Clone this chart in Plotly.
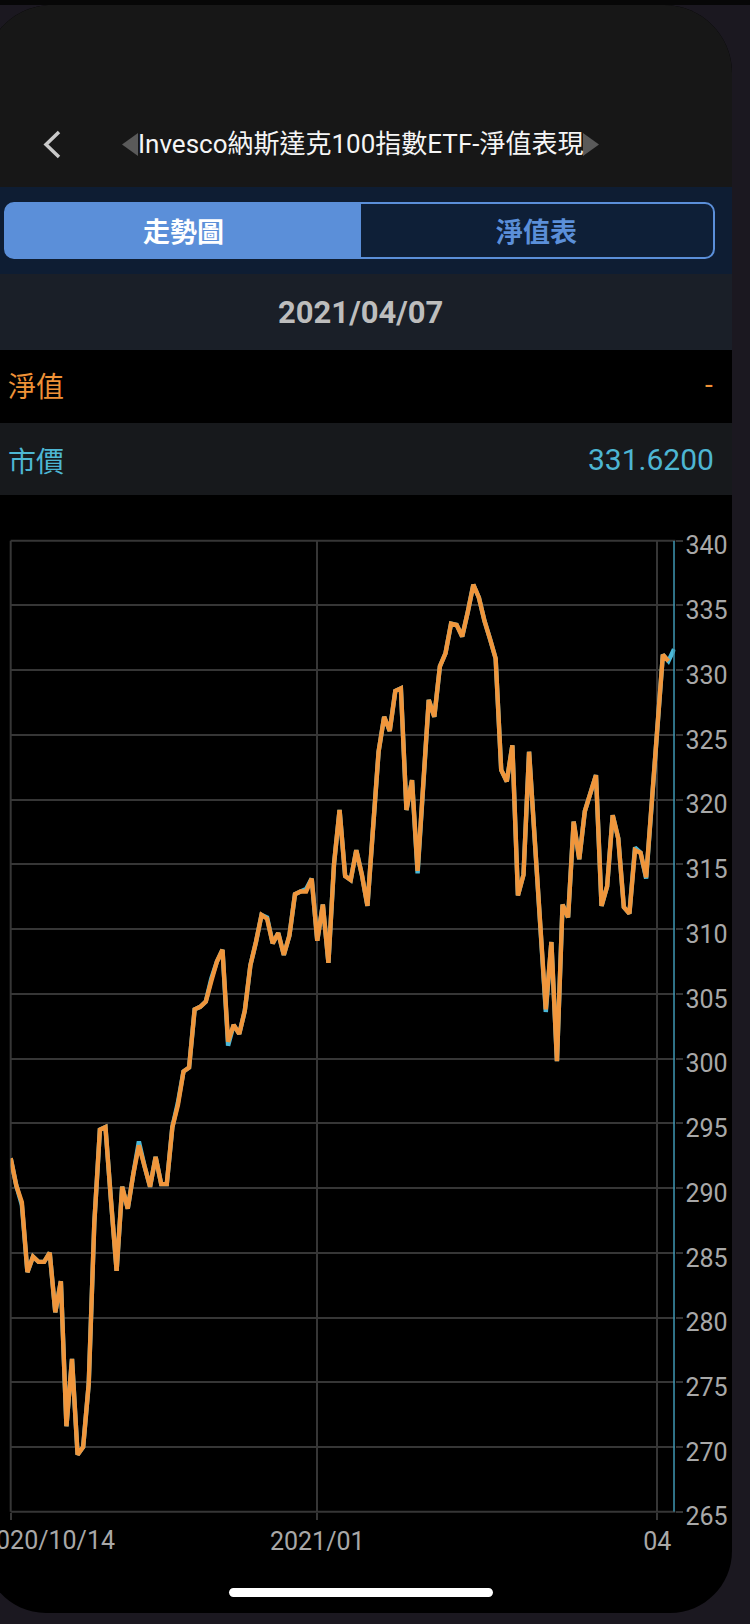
import plotly.graph_objects as go

# ---------------- data ----------------
nav_values = [292.3, 290.2, 288.9, 283.5, 284.7, 284.3, 284.3, 285.0, 280.4, 282.8,
              271.6, 276.8, 269.4, 270.0, 274.9, 287.3, 294.5, 294.7, 289.0, 283.6,
              290.1, 288.4, 291.1, 293.3, 291.7, 290.1, 292.4, 290.3, 290.3, 294.7,
              296.4, 299.0, 299.3, 303.8, 304.0, 304.4, 306.0, 307.5, 308.4, 301.3,
              302.6, 301.9, 303.7, 307.2, 309.0, 311.1, 310.8, 308.9, 309.7, 308.0,
              309.5, 312.7, 312.9, 312.9, 313.9, 309.1, 311.9, 307.4, 315.0, 319.2,
              314.1, 313.8, 316.1, 314.2, 311.8, 317.5, 323.7, 326.4, 325.3, 328.4,
              328.6, 319.2, 321.5, 314.5, 321.5, 327.7, 326.4, 330.3, 331.3, 333.6,
              333.5, 332.6, 334.5, 336.6, 335.6, 333.8, 332.4, 330.9, 322.3, 321.4,
              324.2, 312.6, 314.2, 323.7, 317.0, 310.0, 303.8, 309.0, 299.8, 311.9,
              310.9, 318.3, 315.4, 319.1, 320.6, 321.9, 311.8, 313.3, 318.8, 317.0,
              311.7, 311.2, 316.1, 315.9, 314.0, 319.8, 325.2, 331.2, 330.7]

market_values = [292.3, 290.2, 288.7, 283.5, 284.7, 284.3, 284.3, 285.0, 280.4, 282.8,
                 271.6, 276.8, 269.4, 270.0, 274.9, 287.3, 294.5, 294.7, 289.0, 283.6,
                 290.1, 288.4, 291.1, 293.6, 291.7, 290.1, 292.4, 290.3, 290.3, 294.7,
                 296.6, 299.0, 299.3, 303.8, 304.0, 304.4, 306.2, 307.5, 308.4, 301.0,
                 302.6, 301.9, 303.7, 307.2, 309.0, 311.1, 310.9, 308.9, 309.7, 308.0,
                 309.5, 312.7, 312.9, 313.1, 313.9, 309.1, 311.9, 307.4, 315.0, 319.2,
                 314.1, 313.8, 316.1, 314.2, 311.8, 317.5, 323.7, 326.4, 325.3, 328.4,
                 328.6, 319.2, 321.5, 314.3, 321.5, 327.7, 326.4, 330.3, 331.3, 333.6,
                 333.5, 332.6, 334.5, 336.6, 335.6, 333.8, 332.4, 330.9, 322.3, 321.4,
                 324.2, 312.6, 314.2, 323.7, 317.0, 310.0, 303.6, 309.0, 299.8, 311.9,
                 310.9, 318.3, 315.4, 319.1, 320.6, 321.9, 311.8, 313.3, 318.8, 317.0,
                 311.7, 311.2, 316.3, 315.9, 313.9, 319.8, 325.2, 331.2, 330.7, 331.62]

tick_positions = [0, 55, 116]
tick_labels = ["", "2021/01", "04"]
first_tick_label = "2020/10/14"
y_ticks = list(range(265, 341, 5))

title_text = "Invesco納斯達克100指數ETF-淨值表現"
tab_active = "走勢圖"
tab_inactive = "淨值表"
date_text = "2021/04/07"
nav_label, nav_display = "淨值", "-"
mkt_label, mkt_display = "市價", "331.6200"

# ---------------- layout helpers ----------------
W, H = 750, 1624


def px(x):
    return x / W


def py(y):
    return 1 - y / H


def rrect(x0, y0, x1, y1, rtl=0, rtr=0, rbr=0, rbl=0):
    k = 0.5523

    def P(x, y):
        return f"{px(x):.6f},{py(y):.6f}"

    d = f"M {P(x0 + rtl, y0)} L {P(x1 - rtr, y0)} "
    if rtr:
        d += f"C {P(x1 - rtr + k * rtr, y0)} {P(x1, y0 + rtr - k * rtr)} {P(x1, y0 + rtr)} "
    d += f"L {P(x1, y1 - rbr)} "
    if rbr:
        d += f"C {P(x1, y1 - rbr + k * rbr)} {P(x1 - rbr + k * rbr, y1)} {P(x1 - rbr, y1)} "
    d += f"L {P(x0 + rbl, y1)} "
    if rbl:
        d += f"C {P(x0 + rbl - k * rbl, y1)} {P(x0, y1 - rbl + k * rbl)} {P(x0, y1 - rbl)} "
    d += f"L {P(x0, y0 + rtl)} "
    if rtl:
        d += f"C {P(x0, y0 + rtl - k * rtl)} {P(x0 + rtl - k * rtl, y0)} {P(x0 + rtl, y0)} "
    d += "Z"
    return d


def poly(points, closed=True):
    d = "M " + " L ".join(f"{px(x):.6f},{py(y):.6f}" for x, y in points)
    return d + (" Z" if closed else "")


def pshape(path, fill, line_color=None, line_width=0, layer="below"):
    return dict(type="path", path=path, xref="paper", yref="paper",
                fillcolor=fill, layer=layer,
                line=dict(color=line_color or "rgba(0,0,0,0)", width=line_width))


x_nav = list(range(len(nav_values)))
x_mkt = list(range(len(market_values)))
last_idx = len(market_values) - 1

plot_left, plot_top, plot_bottom = 10.7, 540.7, 1511.7
x_max = last_idx + 0.25
plot_right = plot_left + x_max * 5.574
grid = "#363636"

shapes = [
    pshape(rrect(-40, 0, 790, 5), "#070707"),
    pshape(rrect(-16, 5, 732, 1613, 68, 68, 62, 62), "#000000"),
    pshape(rrect(-16, 5, 732, 187, 68, 68, 0, 0), "#171717"),
    pshape(rrect(-16, 187, 732, 274), "#0e1d33"),
    pshape(rrect(5, 203, 714, 258, 9, 9, 9, 9), "#0e1f37", "#5b8fd9", 2),
    pshape(rrect(5, 203, 361, 258, 9, 0, 0, 9), "#5b8fd9"),
    pshape(rrect(-16, 274, 732, 350), "#1a1f28"),
    pshape(rrect(-16, 423, 732, 495), "#17191c"),
    pshape(rrect(229, 1588, 493, 1597, 4.5, 4.5, 4.5, 4.5), "#ffffff"),
    pshape(poly([(59, 132), (46, 144.5), (59, 157)], closed=False),
           "rgba(0,0,0,0)", "#c9c9c9", 3.5),
    pshape(poly([(138, 133), (122, 144.5), (138, 156)]), "#5a5a5a"),
    pshape(poly([(583, 133), (599, 144.5), (583, 156)]), "#5a5a5a"),
    # plot frame gridlines at the range edges
    pshape(poly([(plot_left, plot_top), (plot_right, plot_top)], closed=False),
           "rgba(0,0,0,0)", grid, 2, layer="between"),
    pshape(poly([(plot_left, plot_bottom), (plot_right, plot_bottom)], closed=False),
           "rgba(0,0,0,0)", grid, 2, layer="between"),
    pshape(poly([(plot_left, plot_top), (plot_left, plot_bottom)], closed=False),
           "rgba(0,0,0,0)", grid, 2, layer="between"),
]

shapes.append(dict(type="line", xref="x", yref="y", x0=last_idx, x1=last_idx,
                   y0=min(y_ticks), y1=max(y_ticks), layer="above",
                   line=dict(color="#3f97b3", width=1.5)))

fig = go.Figure()
fig.add_trace(go.Scatter(x=x_mkt, y=market_values, mode="lines",
                         line=dict(color="#4ab8d8", width=4.4), hoverinfo="skip"))
fig.add_trace(go.Scatter(x=x_nav, y=nav_values, mode="lines",
                         line=dict(color="#f0963c", width=4.4), hoverinfo="skip"))

tick_font = dict(family="Roboto, Noto Sans, sans-serif", size=25, color="#a8a8a8")

fig.update_layout(
    width=W, height=H,
    margin=dict(l=0, r=0, t=0, b=0),
    paper_bgcolor="#1b1820",
    plot_bgcolor="#000000",
    showlegend=False,
    shapes=shapes,
    xaxis=dict(domain=[px(plot_left), px(plot_right)], range=[0, x_max],
               tickvals=tick_positions, ticktext=tick_labels,
               showgrid=True, gridcolor=grid, gridwidth=2,
               ticks="outside", ticklen=7, tickwidth=2, tickcolor=grid,
               zeroline=False, showline=False, tickfont=tick_font,
               automargin=False, fixedrange=True),
    yaxis=dict(domain=[py(plot_bottom), py(plot_top)], range=[265, 340],
               tickvals=y_ticks, side="right",
               showgrid=True, gridcolor=grid, gridwidth=2,
               ticks="outside", ticklen=7, tickwidth=2, tickcolor=grid,
               zeroline=False, showline=False, tickfont=tick_font,
               ticklabelshift=5, ticklabelstandoff=-3,
               automargin=False, fixedrange=True),
)


def ann(x, y, text, size, color, anchor="center", family="Noto Sans CJK TC, sans-serif"):
    fig.add_annotation(x=px(x), y=py(y), xref="paper", yref="paper", text=text,
                       showarrow=False, xanchor=anchor, yanchor="middle",
                       font=dict(size=size, color=color, family=family))


cjk = "Noto Sans CJK TC, sans-serif"
latin = "Roboto, Noto Sans CJK TC, sans-serif"
ann(360, 144, title_text, 26, "#f5f5f5", family=latin)
ann(183, 230, f"<b>{tab_active}</b>", 27, "#ffffff", family=cjk)
ann(536, 230, f"<b>{tab_inactive}</b>", 27, "#5b8fd9", family=cjk)
ann(360, 312, f"<b>{date_text}</b>", 31, "#bdbdbd", family=latin)
ann(6, 385, nav_label, 28, "#ef9237", anchor="left", family=cjk)
ann(715, 385, nav_display, 28, "#ef9237", anchor="right", family=latin)
ann(6, 460, mkt_label, 28, "#4db6d3", anchor="left", family=cjk)
ann(716, 459, mkt_display, 30, "#4db6d3", anchor="right", family=latin)
ann(117, 1540, first_tick_label, 25, "#a8a8a8", anchor="right",
    family="Roboto, Noto Sans, sans-serif")

fig.write_html("out.html", config={"displayModeBar": False},
               post_script="document.body.style.margin='0';document.body.style.overflow='hidden';")
